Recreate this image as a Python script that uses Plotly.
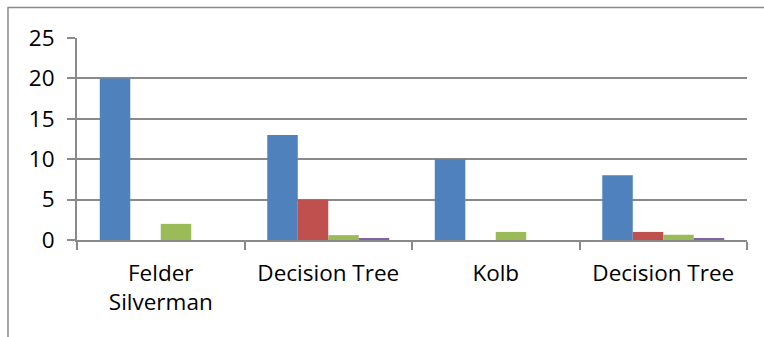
import plotly.graph_objects as go

# Groups along the x axis (two share the same label, so positions are numeric)
group_labels = ["Felder<br>Silverman", "Decision Tree", "Kolb", "Decision Tree"]
group_pos = [0, 1, 2, 3]

# Four data series per group
series_1 = [20, 13, 10, 8]
series_2 = [0, 5, 0, 1]
series_3 = [2, 0.6, 1, 0.65]
series_4 = [0, 0.2, 0, 0.2]

y_ticks = [0, 5, 10, 15, 20, 25]

colors = ["#4F81BD", "#C0504D", "#9BBB59", "#8064A2"]
names = ["Series 1", "Series 2", "Series 3", "Series 4"]

grid = "#8A8A8A"
font_family = "Open Sans, Lato, sans-serif"

fig = go.Figure()
for name, vals, col in zip(names, [series_1, series_2, series_3, series_4], colors):
    fig.add_trace(go.Bar(x=group_pos, y=vals, name=name, marker=dict(color=col, line=dict(width=0))))

fig.update_layout(
    width=764,
    height=337,
    margin=dict(l=77, r=17, t=37.5, b=97),
    paper_bgcolor="white",
    plot_bgcolor="white",
    barmode="group",
    bargap=0.272,
    bargroupgap=0,
    showlegend=False,
    font=dict(family=font_family, size=22.5, color="black"),
    xaxis=dict(
        range=[-0.5, 3.5],
        tickmode="array",
        tickvals=group_pos,
        ticktext=group_labels,
        ticks="",
        showgrid=False,
        showline=True,
        linecolor=grid,
        linewidth=2,
        zeroline=False,
        ticklabelstandoff=12,
        minor=dict(
            tickmode="array",
            tickvals=[-0.5, 0.5, 1.5, 2.5, 3.5],
            ticks="outside",
            ticklen=8,
            tickwidth=2,
            tickcolor=grid,
            showgrid=False,
        ),
        fixedrange=True,
    ),
    yaxis=dict(
        range=[0, 25],
        tickmode="array",
        tickvals=y_ticks,
        ticks="outside",
        ticklen=8,
        tickwidth=2,
        tickcolor=grid,
        showgrid=True,
        gridcolor=grid,
        gridwidth=2,
        showline=True,
        linecolor=grid,
        linewidth=2,
        zeroline=False,
        ticklabelstandoff=8,
        fixedrange=True,
    ),
)

# Outer chart frame (left and top edges)
fig.add_shape(
    type="path",
    xref="paper",
    yref="paper",
    path="M -0.103,-0.5 L -0.103,1.1506 L 1.05,1.1506",
    line=dict(color=grid, width=1.5),
)

fig.write_html("out.html")
